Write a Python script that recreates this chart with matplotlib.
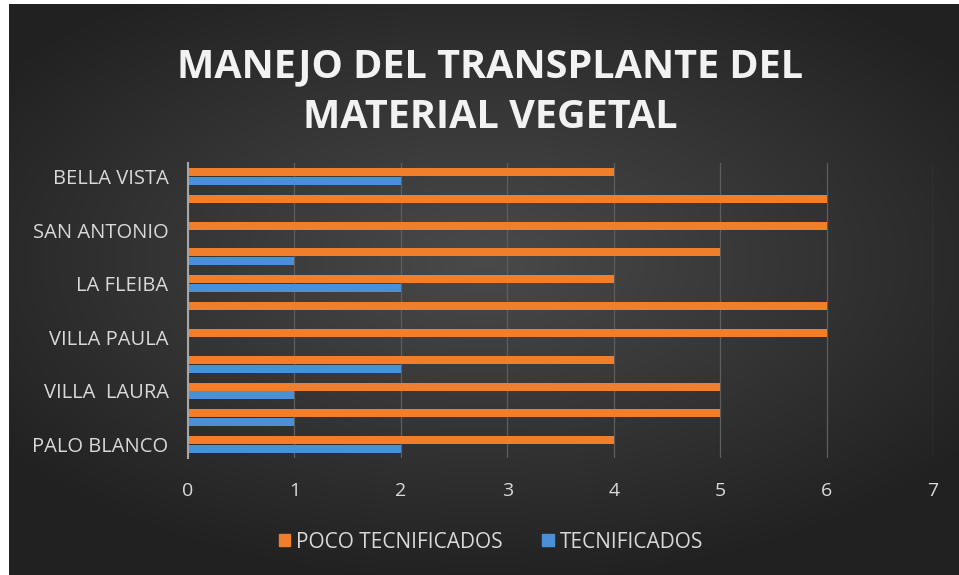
import numpy as np
import matplotlib.pyplot as plt
import matplotlib.patches as mpatches

# data, bottom to top
labels = ["PALO BLANCO", "", "VILLA  LAURA", "", "VILLA PAULA", "",
          "LA FLEIBA", "", "SAN ANTONIO", "", "BELLA VISTA"]
poco = [4, 5, 5, 4, 6, 6, 4, 5, 6, 6, 4]
tecn = [2, 1, 1, 2, 0, 0, 2, 1, 0, 0, 2]
xticks = [0, 1, 2, 3, 4, 5, 6, 7]

ORANGE = "#f07e2a"
BLUE = "#4a90d9"
TXT = "#d9d9d9"

fig = plt.figure(figsize=(9.59, 5.75), dpi=100)
fig.patch.set_facecolor("white")

# dark radial-gradient background
bg = fig.add_axes([9 / 959, 0, 1 - 9 / 959, 1 - 4 / 575])
gx, gy = np.meshgrid(np.linspace(-1, 1, 400), np.linspace(-1, 1, 240))
r = np.sqrt((gx * 0.9) ** 2 + ((gy + 0.1) * 1.0) ** 2)
shade = np.clip(0.29 - 0.14 * r, 0.13, 0.3)
bg.imshow(np.dstack([shade] * 3), aspect="auto", extent=[0, 1, 0, 1])
bg.axis("off")

ax = fig.add_axes([188 / 959, 1 - 458 / 575, (933 - 188) / 959, (458 - 163) / 575])
ax.patch.set_alpha(0)

y = np.arange(len(labels))
h = 0.3
ax.barh(y + 0.165, poco, height=h, color=ORANGE, label="POCO TECNIFICADOS", zorder=3)
ax.barh(y - 0.165, tecn, height=h, color=BLUE, label="TECNIFICADOS", zorder=3)

ax.set_xlim(0, 7)
ax.set_ylim(-0.5, len(labels) - 0.5)
ax.set_xticks(xticks)
ax.set_xticklabels([str(t) for t in xticks])
ax.set_yticks(y)
ax.set_yticklabels(labels)
ax.tick_params(axis="both", length=0, colors=TXT)
ax.tick_params(axis="x", pad=17, labelsize=14)
ax.tick_params(axis="y", pad=14, labelsize=14.5)
for t in ax.get_xticklabels() + ax.get_yticklabels():
    t.set_fontfamily("Open Sans")

ax.grid(axis="x", color="#5e5e5e", linewidth=0.9, zorder=0)
for s in ["top", "right", "bottom"]:
    ax.spines[s].set_visible(False)
ax.spines["left"].set_color("#a6a6a6")
ax.spines["left"].set_linewidth(1.5)
ax.spines["left"].set_zorder(4)

fig.text(0.511, 1 - 67 / 575, "MANEJO DEL TRANSPLANTE DEL", ha="center", va="center",
         fontsize=28.5, fontweight="bold", color="#f2f2f2", family="Open Sans")
fig.text(0.511, 1 - 117 / 575, "MATERIAL VEGETAL", ha="center", va="center",
         fontsize=28.5, fontweight="bold", color="#f2f2f2", family="Open Sans")

handles = [mpatches.Patch(color=ORANGE, label="POCO TECNIFICADOS"),
           mpatches.Patch(color=BLUE, label="TECNIFICADOS")]
leg = fig.legend(handles=handles, loc="center", bbox_to_anchor=(0.512, 1 - 542 / 575),
                 ncol=2, frameon=False, handlelength=0.55, handleheight=0.55,
                 handletextpad=0.3, columnspacing=1.9, prop={"family": "Open Sans", "size": 15})
for t in leg.get_texts():
    t.set_color(TXT)

fig.savefig("out.png", dpi=100, facecolor=fig.get_facecolor())
